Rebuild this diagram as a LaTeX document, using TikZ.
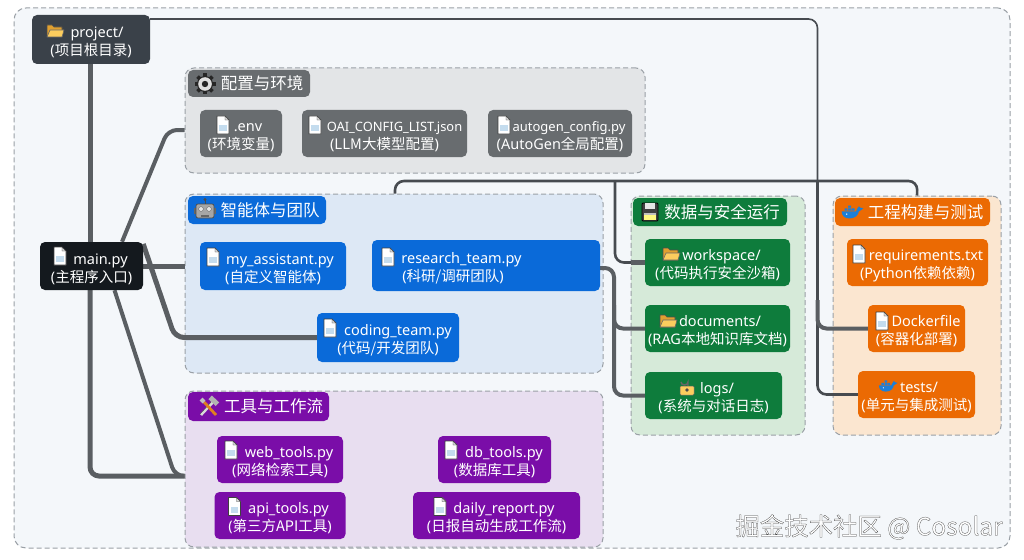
\documentclass[tikz,border=0pt]{standalone}
\usepackage{fontspec}
\setmainfont{Noto Sans}
\newfontfamily\zh{Noto Sans CJK SC}
\newfontface\wmfont[FakeBold=1.0]{Noto Sans CJK SC}
\newcommand\lead[1]{\rule{0pt}{17pt}\hspace*{#1}}
\definecolor{outerbg}{HTML}{F4F7FA}
\definecolor{dashc}{HTML}{9AA0A6}
\definecolor{wire}{HTML}{5A5E62}
\definecolor{wirethin}{HTML}{474B50}
\definecolor{folderback}{HTML}{E0A030}
\definecolor{folderfront}{HTML}{FCCD5E}
\definecolor{pageblue}{HTML}{C4DCEE}
\definecolor{whaleblue}{HTML}{1C7FD8}
\pgfdeclarelayer{back}
\pgfdeclarelayer{mid}
\pgfsetlayers{back,mid,main}
\tikzset{
  fbox/.style n args={3}{rectangle,rounded corners=5,minimum width=#1,minimum height=#2,fill=#3,text=white,
    align=center,inner sep=0pt,font=\fontsize{14.5}{18}\selectfont},
  hbox/.style n args={3}{rectangle,rounded corners=5,minimum width=#1,minimum height=#2,fill=#3,text=white,
    align=center,inner sep=0pt,font=\fontsize{16.5}{20}\selectfont},
  grp/.style n args={3}{rectangle,rounded corners=9,minimum width=#1,minimum height=#2,fill=#3,
    draw=dashc,line width=1pt,dash pattern=on 5pt off 3pt,inner sep=0pt},
  wirethick/.style={draw=wire,line width=5pt,rounded corners=9},
  wiremid/.style={draw=wire,line width=4pt,rounded corners=9},
  wirefine/.style={draw=wirethin,line width=2.6pt,rounded corners=9},
  pics/fileicon/.style={code={
    \draw[fill=white,draw=black!75,line width=.6pt,line join=round] (-6,-9) -- (2,-9) -- (6,-5) -- (6,9) -- (-6,9) -- cycle;
    \fill[pageblue] (-3.8,0) rectangle (3.8,6);
    \draw[fill=black!15,draw=black!75,line width=.4pt] (2,-9) -- (2,-5) -- (6,-5) -- cycle;
  }},
  pics/foldericon/.style={code={
    \draw[fill=folderback,draw=black!70,line width=.6pt,line join=round] (-8,-6) -- (-3,-6) -- (-1,-4) -- (7,-4) -- (7,6) -- (-8,6) -- cycle;
    \draw[fill=folderfront,draw=black!60,line width=.6pt,line join=round] (-8,6) -- (-5,-1) -- (9,-1) -- (7,6) -- cycle;
  }},
  pics/floppyicon/.style={code={
    \draw[fill=black!75,draw=black,line width=.8pt,rounded corners=1] (-8,-9) rectangle (8,9);
    \fill[black!10] (-5,-9) rectangle (5,-3);
    \fill[yellow!50] (-6,1) rectangle (6,8);
    \fill[black!25] (-6,1) rectangle (6,3);
  }},
  pics/roboticon/.style={code={
    \draw[black!70,line width=1pt] (0,-5) -- (0,-9);
    \fill[black!70] (0,-9.5) circle (1.6);
    \fill[black!60] (-11,-1) rectangle (11,5);
    \draw[fill=black!35,draw=black!70,line width=.7pt,rounded corners=2] (-9,-5) rectangle (9,9);
    \fill[black!10,draw=black!60] (-4,0) circle (2.4) (4,0) circle (2.4);
    \fill[black!60] (-4,6) rectangle (4,7.5);
  }},
  pics/lockicon/.style={code={
    \draw[black!60,line width=1.4pt] (1,-1) -- (1,-5) arc[start angle=0,end angle=180,x radius=3.5,y radius=3];
    \draw[fill=folderfront,draw=black!60,line width=.5pt,rounded corners=1] (-7,-1) rectangle (7,8);
    \fill[black!70] (0,3) circle (1.8);
  }},
  pics/gearicon/.style={code={
    \foreach \a in {0,45,...,315} {\draw[black!85,line width=3.6pt] (0,0) -- (\a:10.5);}
    \fill[black!85] (0,0) circle (8);
    \fill[black!12] (0,0) circle (6.8);
    \fill[black!85] (0,0) circle (3.2);
  }},
  pics/whaleicon/.style={code={
    \fill[whaleblue] (-13,-1) -- (7,-1) .. controls (8,-3) and (9,-6) .. (11,-8) .. controls (11,-6) and (14,-6) .. (17,-5)
      .. controls (15,-3) and (13,-2) .. (11,-1) .. controls (10,5) and (5,9) .. (-2,9) .. controls (-9,9) and (-13,5) .. (-13,-1) -- cycle;
    \fill[whaleblue] (-9,-5) rectangle (-5,-2) (-4,-5) rectangle (0,-2) (1,-5) rectangle (5,-2) (-4,-9) rectangle (0,-6);
    \fill[white] (-6,3) circle (1);
  }},
  pics/toolsicon/.style={code={
    \draw[black!15,line width=2.6pt] (-7,8) -- (6,-6);
    \draw[black!70,line width=.4pt] (-8,7) -- (5,-7);
    \fill[black!30,rotate=-43] (-5,-11) rectangle (5,-6);
    \draw[orange!50!brown,line width=2.8pt] (8,8) -- (-4,-5);
    \draw[black!25,line width=4pt] (-4,-5) -- (-7,-8);
  }},
}
\begin{document}
\begin{tikzpicture}[x=1pt,y=-1pt]
\useasboundingbox (0,0) rectangle (1024,559);
\definecolor{grpgray}{HTML}{E3E5E7}
\definecolor{grpblue}{HTML}{DDE8F5}
\definecolor{grpgreen}{HTML}{D6EAD9}
\definecolor{grporange}{HTML}{FBE6D0}
\definecolor{grppurple}{HTML}{E8DEF0}
\definecolor{rootc}{HTML}{3A4149}
\definecolor{mainc}{HTML}{14191E}
\definecolor{grayb}{HTML}{686C6F}
\definecolor{blueb}{HTML}{0A6AD9}
\definecolor{greenb}{HTML}{0E7C3C}
\definecolor{orangeb}{HTML}{EB6A03}
\definecolor{purpleb}{HTML}{7A0DA8}
\begin{pgfonlayer}{back}
\fill[white] (0,0) rectangle (1024,559);
\node[grp={996}{540}{outerbg},rounded corners=12] (outer) at (512,278) {};
\node[grp={460}{105}{grpgray}] (config) at (415,120.5) {};
\node[grp={418}{179}{grpblue}] (agent) at (394,283.5) {};
\node[grp={174}{239}{grpgreen}] (data) at (718,315.5) {};
\node[grp={168}{239}{grporange}] (eng) at (917,315.5) {};
\node[grp={418}{156}{grppurple}] (tools) at (394,469) {};
\end{pgfonlayer}

\node[fbox={118}{49}{rootc}] (project) at (91,39.5) {\lead{12pt}project/\\({\zh 项目根目录})};
\node[fbox={103}{48}{mainc}] (main) at (91.5,266) {\lead{18pt}main.py\\({\zh 主程序入口})};

\node[hbox={122}{27}{grayb}] (hconfig) at (249,83.5) {\hspace*{26pt}{\zh 配置与环境}};
\node[fbox={82}{47}{grayb}] (env) at (241,133.5) {\lead{14pt}.env\\({\zh 环境变量})};
\node[fbox={165}{47}{grayb}] (oai) at (384.5,133.5) {\lead{20pt}{\fontsize{12.9}{18}\selectfont OAI\_CONFIG\_LIST.json}\\({\zh LLM大模型配置})};
\node[fbox={144}{47}{grayb}] (autogen) at (560,133.5) {\lead{18pt}{\fontsize{13}{18}\selectfont autogen\_config.py}\\(AutoGen{\zh 全局配置})};

\node[hbox={138}{28}{blueb}] (hagent) at (257,210) {\hspace*{26pt}{\zh 智能体与团队}};
\node[fbox={146}{48}{blueb}] (assistant) at (273,266) {\lead{14pt}my\_assistant.py\\({\zh 自定义智能体})};
\node[fbox={228}{51}{blueb}] (research) at (486,265.5) {};
\node[text=white,align=center,inner sep=0pt,font=\fontsize{14.5}{18}\selectfont] (researcht) at (453,265.5) {\lead{17pt}research\_team.py\\({\zh 科研/调研团队})};
\node[fbox={142}{49}{blueb}] (coding) at (388,337.5) {\lead{20pt}coding\_team.py\\({\zh 代码/开发团队})};

\node[hbox={154}{28}{greenb}] (hdata) at (710,212) {\hspace*{24pt}{\zh 数据与安全运行}};
\node[fbox={145}{47}{greenb}] (workspace) at (717.5,262.5) {\lead{8pt}workspace/\\({\zh 代码执行安全沙箱})};
\node[fbox={145}{47}{greenb}] (documents) at (717.5,328.5) {\lead{5pt}documents/\\(RAG{\zh 本地知识库文档})};
\node[fbox={137}{47}{greenb}] (logs) at (713.5,395.5) {\lead{7pt}logs/\\({\zh 系统与对话日志})};

\node[hbox={155}{28}{orangeb}] (heng) at (912.5,212) {\hspace*{26pt}{\zh 工程构建与测试}};
\node[fbox={141}{47}{orangeb}] (req) at (917.5,262.5) {\lead{17pt}requirements.txt\\(Python{\zh 依赖依赖})};
\node[fbox={97}{47}{orangeb}] (docker) at (916.5,328.5) {\lead{19pt}Dockerfile\\({\zh 容器化部署})};
\node[fbox={117}{47}{orangeb}] (tests) at (916.5,394.5) {\lead{5pt}tests/\\({\zh 单元与集成测试})};

\node[hbox={141}{29}{purpleb}] (htools) at (258.5,406.5) {\hspace*{30pt}{\zh 工具与工作流}};
\node[fbox={126}{47}{purpleb}] (web) at (280,459.5) {\lead{18pt}web\_tools.py\\({\zh 网络检索工具})};
\node[fbox={113}{47}{purpleb}] (db) at (494.5,459.5) {\lead{19pt}db\_tools.py\\({\zh 数据库工具})};
\node[fbox={131}{47}{purpleb}] (api) at (280,515.5) {\lead{17pt}api\_tools.py\\({\zh 第三方API工具})};
\node[fbox={167}{47}{purpleb}] (daily) at (496.5,515.5) {\lead{15pt}daily\_report.py\\({\zh 日报自动生成工作流})};

\pic at (55,31) {foldericon};
\pic at (60,256) {fileicon};
\pic at (205,84) {gearicon};
\pic at (223,125) {fileicon};
\pic at (315,125) {fileicon};
\pic at (504,125) {fileicon};
\pic at (205,209) {roboticon};
\pic at (213,257) {fileicon};
\pic at (388,257) {fileicon};
\pic at (330,328) {fileicon};
\pic at (650,212) {floppyicon};
\pic at (671,254) {foldericon};
\pic at (668,321) {foldericon};
\pic at (687,387) {lockicon};
\pic[scale=.72] at (851,212) {whaleicon};
\pic at (859,254) {fileicon};
\pic at (882,321) {fileicon};
\pic[scale=.62] at (887,386) {whaleicon};
\pic at (208,407) {toolsicon};
\pic at (231,450) {fileicon};
\pic at (451,450) {fileicon};
\pic at (234.5,506.5) {fileicon};
\pic at (440,506.5) {fileicon};

\node[text=white,font=\fontsize{24.4}{26}\selectfont,inner sep=0pt] (wm) at (869,527)
  {\wmfont\special{pdf:code 1 1 1 rg 0.25 0.25 0.25 RG}掘金技术社区 @ Cosolar};

\begin{pgfonlayer}{mid}
\coordinate (trunk) at (817.5,181);
\coordinate (busleft) at (395,181);
\coordinate (trunkend) at (817.5,394.5);
\coordinate (cfgbend) at (168,130);
\coordinate (codbend) at (175,337.5);
\coordinate (toolbend) at (175,476);
\coordinate (rootbend) at (90,476);
\coordinate (dropdata) at (615,181);
\coordinate (dropres) at (614,268);
% root trunk
\draw[wirethick] (project.south -| rootbend) -- (main.north -| rootbend);
\draw[wirethick] (main.south -| rootbend) -- (rootbend) -- (rootbend -| tools.west);
\draw[draw=wirethin,line width=1.6pt,rounded corners=9] ([yshift=20.5]project.east) -| (trunk);
% main
\draw[wiremid] ([xshift=30.5]main.north) -- (cfgbend) -- (cfgbend -| config.west);
\draw[wirethick] (main.east) -- (main.east -| agent.west);
\draw[wirethick] ([yshift=22]main.east) -- (codbend) -- (coding.west);
\draw[wiremid] ([xshift=23]main.south) -- (toolbend) -- (toolbend -| tools.west);
% bus
\draw[wirefine] (busleft |- agent.north) -- (busleft) -- (trunk) -- ++(100,0) -- (eng.north -| 917,0);
\draw[wirefine] (dropdata) -- (dropdata |- workspace.west) -- (workspace.west);
\draw[wirethick,rounded corners=0] (data.west |- workspace.west) -- (workspace.west);
\draw[wiremid] (research.east) ++(0,2.5) -- (dropres) -- (dropres |- logs.west) -- (logs.west);
\draw[wiremid] (dropres |- 0,305) -- (dropres |- documents.west) -- (documents.west);
\draw[wirefine] (trunk) -- (trunkend) -- (tests.west);
\draw[wiremid] (trunk |- 0,300) -- (trunk |- docker.west) -- (docker.west);
\end{pgfonlayer}
\end{tikzpicture}
\end{document}
